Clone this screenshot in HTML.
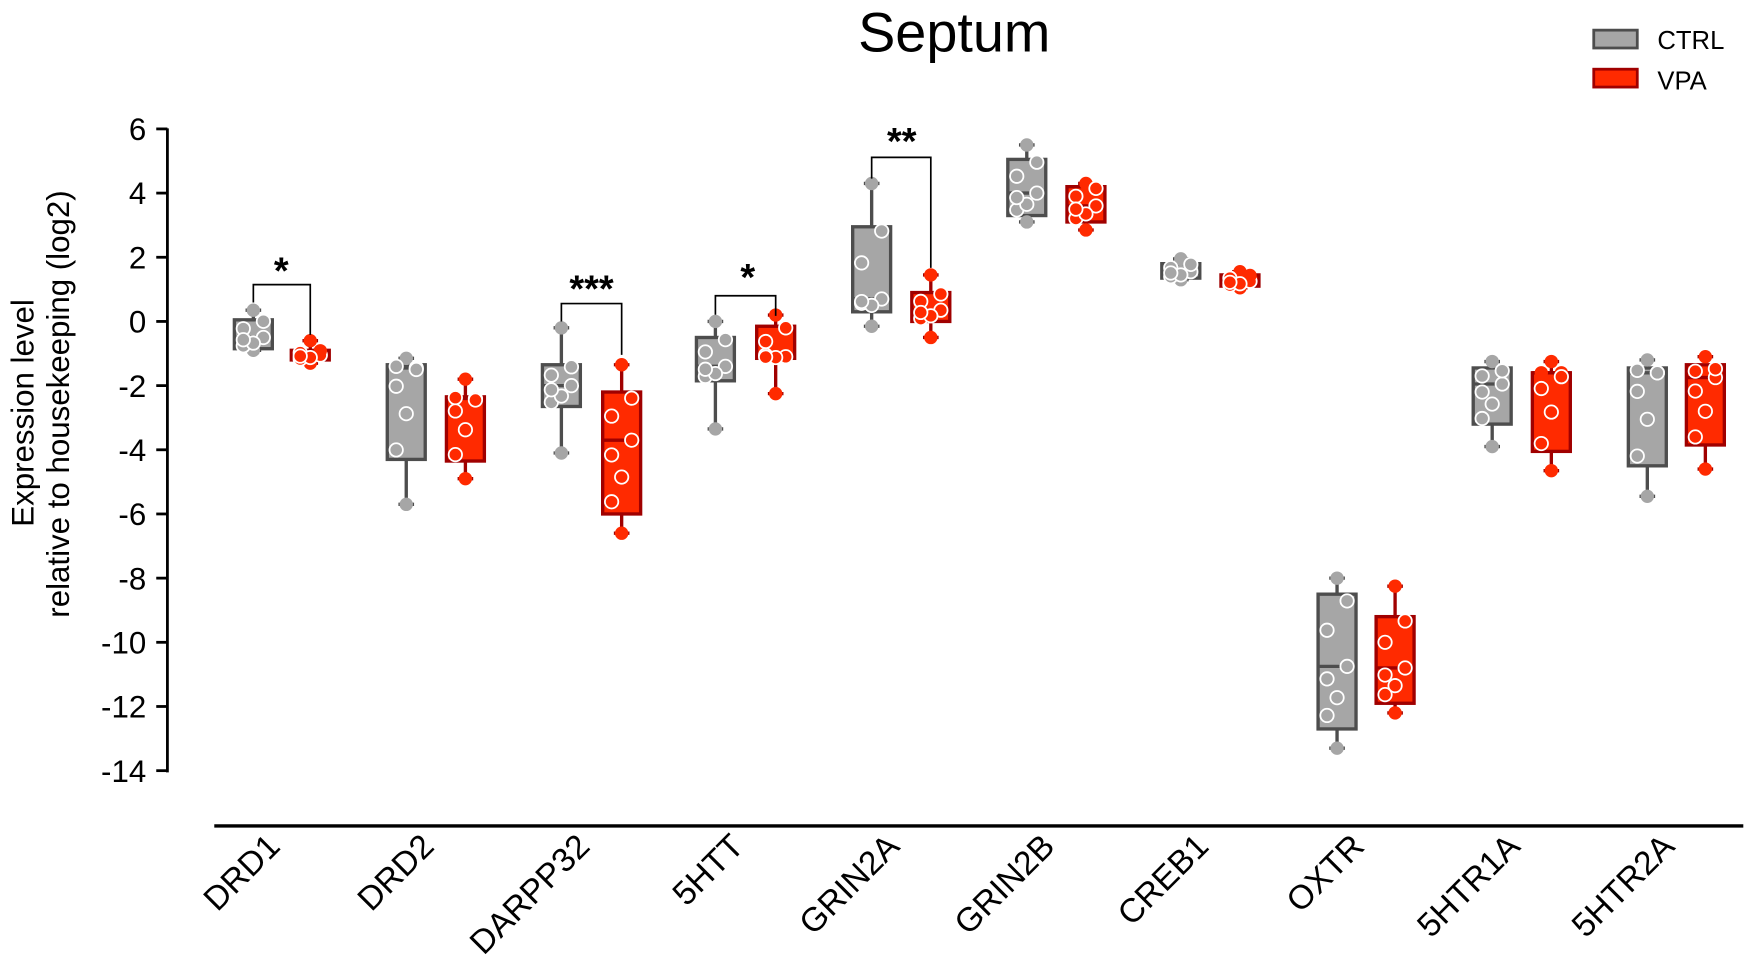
<!DOCTYPE html>
<html><head><meta charset="utf-8"><style>
html,body{margin:0;padding:0;background:#fff;}
svg{display:block;font-family:"Liberation Sans",Arial,sans-serif;}
</style></head><body>
<svg id="s" width="1750" height="971" viewBox="0 0 1568 870" xmlns="http://www.w3.org/2000/svg">
<text x="855" y="46" font-size="50" text-anchor="middle">Septum</text>
<rect x="1428" y="27" width="39" height="16" fill="#a6a6a6" stroke="#4d4d4d" stroke-width="2.5"/>
<text x="1485" y="44" font-size="23">CTRL</text>
<rect x="1428" y="62" width="39" height="16" fill="#ff2a00" stroke="#a00000" stroke-width="2.5"/>
<text x="1485" y="80" font-size="23">VPA</text>
<g font-size="28" transform="rotate(-90)">
<text x="-370" y="30" text-anchor="middle">Expression level</text>
<text x="-362" y="62" text-anchor="middle">relative to housekeeping (log2)</text>
</g>
<line x1="150" y1="115" x2="150" y2="692" stroke="#000" stroke-width="2.5"/>
<line x1="192" y1="740" x2="1562" y2="740" stroke="#000" stroke-width="3"/>
<g id="ax"></g>
<g id="bx"></g>
<g stroke="#000" stroke-width="1.5" fill="none">
<polyline points="227,271 227,255 278,255 278,300"/>
<polyline points="503,288 503,272 557,272 557,318"/>
<polyline points="641,282 641,265 695,265 695,283"/>
<polyline points="781,160 781,141 834,141 834,240"/>
</g>
<g font-size="34" font-weight="bold" text-anchor="middle">
<text x="252" y="254">*</text>
<text x="530" y="270">***</text>
<text x="670" y="260">*</text>
<text x="808" y="138">**</text>
</g>
</svg>
<script>
const NS="http://www.w3.org/2000/svg";
function el(p,t,a,txt){const e=document.createElementNS(NS,t);for(const k in a)e.setAttribute(k,a[k]);if(txt!==undefined)e.textContent=txt;p.appendChild(e);return e;}
const Y=v=>288-v*28.75;
const ax=document.getElementById('ax');
for(let v=6;v>=-14;v-=2){const y=Y(v);el(ax,'line',{x1:140,y1:y,x2:150,y2:y,stroke:'#000','stroke-width':2.5});el(ax,'text',{x:131,y:y+10,'font-size':28,'text-anchor':'end'},String(v));}
const cats=["DRD1","DRD2","DARPP32","5HTT","GRIN2A","GRIN2B","CREB1","OXTR","5HTR1A","5HTR2A"];
const cx=[[227,278],[364,417],[503,557],[641,695],[781,834],[920,973],[1058,1111],[1198,1250],[1337,1390],[1476,1528]];
cats.forEach((c,i)=>{const x=(cx[i][0]+cx[i][1])/2,y=760;el(ax,'text',{x:x,y:y,'font-size':30,'text-anchor':'end',transform:`rotate(-45 ${x} ${y})`},c);});
const D=[
[[-0.9,-0.85,-0.5,0.05,0.35],[-1.3,-1.2,-1.05,-0.9,-0.6]],
[[-5.7,-4.3,-1.45,-1.35,-1.15],[-4.9,-4.35,-2.4,-2.35,-1.8]],
[[-4.1,-2.65,-2.0,-1.35,-0.2],[-6.6,-6.0,-3.7,-2.2,-1.35]],
[[-3.35,-1.85,-1.4,-0.5,0],[-2.25,-1.15,-1.1,-0.15,0.2]],
[[-0.15,0.3,0.7,2.95,4.3],[-0.5,0,0.35,0.9,1.45]],
[[3.1,3.3,4.0,5.05,5.5],[2.85,3.1,3.6,4.2,4.3]],
[[1.3,1.35,1.55,1.8,1.95],[1.05,1.1,1.25,1.45,1.55]],
[[-13.3,-12.7,-10.75,-8.5,-8.0],[-12.2,-11.9,-10.8,-9.2,-8.25]],
[[-3.9,-3.2,-1.95,-1.45,-1.25],[-4.65,-4.05,-1.6,-1.6,-1.25]],
[[-5.45,-4.5,-1.6,-1.45,-1.2],[-4.6,-3.85,-1.75,-1.35,-1.1]]];
const bx=document.getElementById('bx');
const col=[{f:'#a6a6a6',s:'#4d4d4d',d:'#a6a6a6'},{f:'#ff2a00',s:'#a00000',d:'#ff2a00'}];
D.forEach((g,i)=>g.forEach((b,j)=>{
 const x=cx[i][j],C=col[j],w=17;
 el(bx,'line',{x1:x,y1:Y(b[0]),x2:x,y2:Y(b[4]),stroke:C.s,'stroke-width':3});
 el(bx,'line',{x1:x-7,y1:Y(b[0]),x2:x+7,y2:Y(b[0]),stroke:C.s,'stroke-width':3,'stroke-dasharray':'3 3'});
 el(bx,'line',{x1:x-7,y1:Y(b[4]),x2:x+7,y2:Y(b[4]),stroke:C.s,'stroke-width':3,'stroke-dasharray':'3 3'});
 el(bx,'rect',{x:x-w,y:Y(b[3]),width:2*w,height:Y(b[1])-Y(b[3]),fill:C.f,stroke:C.s,'stroke-width':3});
 el(bx,'line',{x1:x-w,y1:Y(b[2]),x2:x+w,y2:Y(b[2]),stroke:C.s,'stroke-width':3});
 const pts=[b[0],b[4],b[1]+(b[3]-b[1])*0.1,b[2],b[2]+(b[3]-b[2])*0.5,b[3]-(b[3]-b[1])*0.05,b[1]+(b[2]-b[1])*0.5,b[2]-(b[2]-b[1])*0.2];
 const off=[0,0,-9,9,-9,9,0,-9];
 pts.forEach((v,k)=>{const inside=v>b[1]+0.02&&v<b[3]-0.02;
  el(bx,'circle',{cx:x+off[k],cy:Y(v),r:6,fill:C.d,stroke:inside?'#fff':'none','stroke-width':1.6});});
}));
</script>
</body></html>
